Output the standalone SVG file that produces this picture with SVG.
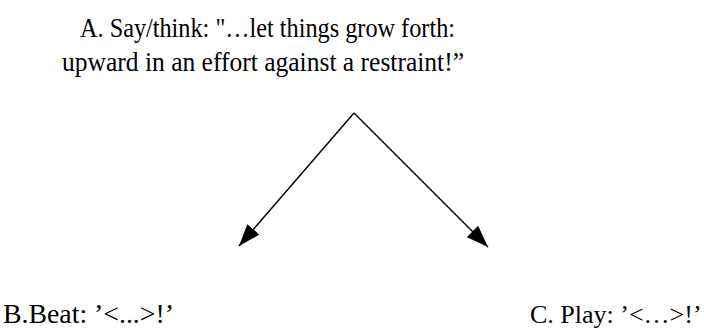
<svg xmlns="http://www.w3.org/2000/svg" width="704" height="335" viewBox="0 0 704 335">
<style>
text{font-family:"Liberation Serif","Times New Roman",serif;font-size:27px;fill:#000}
.c{stroke:#000;stroke-width:1.5;fill:none}
</style>
<defs>
<marker id="ah" viewBox="0 0 22 16" refX="22" refY="8" markerWidth="22" markerHeight="16" markerUnits="userSpaceOnUse" orient="auto">
<path d="M0,0 L22,8 L0,16 z" fill="#000"/>
</marker>
</defs>
<rect width="704" height="335" fill="#fff"/>
<g id="A">
<text x="80" y="37" textLength="375" lengthAdjust="spacingAndGlyphs">A. Say/think: "…let things grow forth:</text>
<text x="62" y="71" textLength="402" lengthAdjust="spacingAndGlyphs">upward in an effort against a restraint!”</text>
</g>
<g id="connectors">
<path class="c" d="M354,113 L239,246" marker-end="url(#ah)"/>
<path class="c" d="M354,113 L488,247" marker-end="url(#ah)"/>
</g>
<g id="B">
<text x="3" y="323" textLength="171" lengthAdjust="spacingAndGlyphs">B.Beat: ’&lt;...&gt;!’</text>
</g>
<g id="C">
<text x="530" y="323" style="font-size:26px">C. Play: ’&lt;…&gt;!’</text>
</g>
</svg>
